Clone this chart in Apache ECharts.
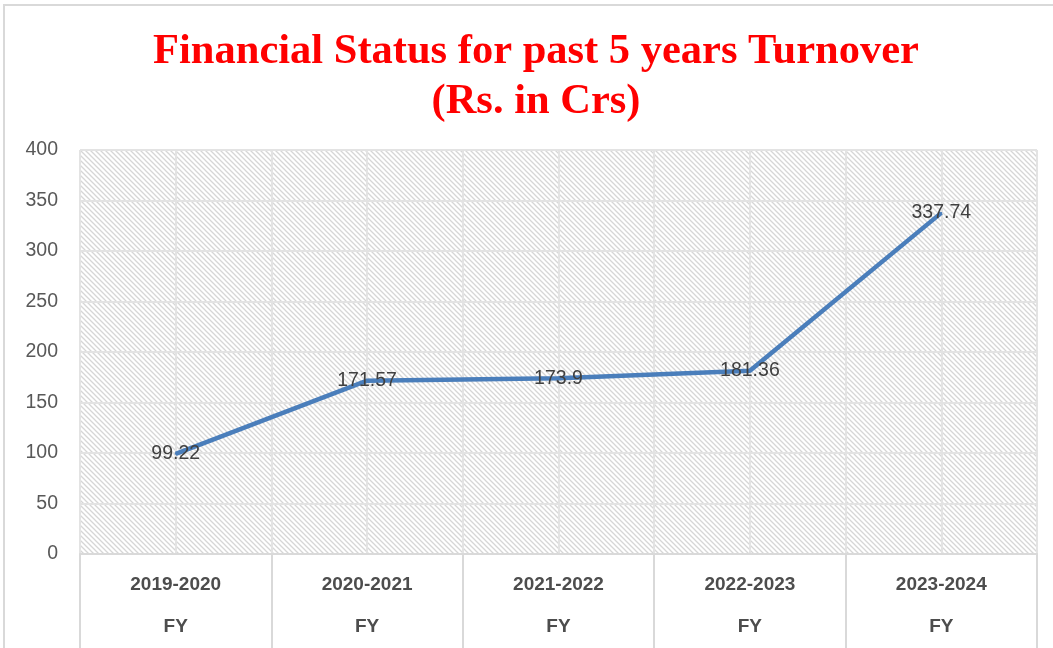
<!DOCTYPE html>
<html><head><meta charset="utf-8">
<script src="https://cdn.jsdelivr.net/npm/echarts@6/dist/echarts.min.js"></script>
<style>html,body{margin:0;padding:0;background:#fff}#c{width:1053px;height:648px}</style>
</head><body><div id="c"></div>
<script>
const categories = ['2019-2020','2020-2021','2021-2022','2022-2023','2023-2024'];
const groupLabel = 'FY';
const turnover = [99.22, 171.57, 173.9, 181.36, 337.74];
const yTicks = {min: 0, max: 400, interval: 50};
const titleText = 'Financial Status for past 5 years Turnover\n(Rs. in Crs)';

// hatch pattern
const P = 5;
const pc = document.createElement('canvas');
pc.width = P; pc.height = P;
const g = pc.getContext('2d');
g.fillStyle = '#ffffff'; g.fillRect(0,0,P,P);
g.strokeStyle = '#d6d6d6'; g.lineWidth = 1.3;
g.beginPath();
g.moveTo(-1,-1); g.lineTo(P+1,P+1);
g.moveTo(-1,P-1); g.lineTo(1,P+1);
g.moveTo(P-1,-1); g.lineTo(P+1,1);
g.stroke();

const halfCats = [];
categories.forEach(() => { halfCats.push(''); halfCats.push(''); });

const chart = echarts.init(document.getElementById('c'));
chart.setOption({
  animation: false,
  backgroundColor: '#ffffff',
  title: {
    text: titleText,
    left: 531, textAlign: 'center', top: 22,
    textStyle: {fontFamily: 'Liberation Serif', fontWeight: 'bold', fontSize: 42.5, color: '#ff0000', lineHeight: 50}
  },
  graphic: [{type: 'rect', shape: {x: 4, y: 5, width: 1100, height: 700}, style: {fill: 'none', stroke: '#d9d9d9', lineWidth: 2}, silent: true, z: -1}],
  grid: {left: 80, right: 16, top: 150, bottom: 94, show: true, backgroundColor: {image: pc, repeat: 'repeat'}, borderWidth: 0},
  xAxis: [{
    type: 'category', data: categories, boundaryGap: true,
    axisLine: {lineStyle: {color: '#d9d9d9', width: 2}},
    axisTick: {show: true, length: 94, lineStyle: {color: '#d9d9d9', width: 2}},
    splitLine: {show: false},
    axisLabel: {
      margin: 10, lineHeight: 42, fontFamily: 'Liberation Sans', fontWeight: 'bold', fontSize: 19, color: '#4d4d4d',
      formatter: v => v + '\n' + groupLabel
    }
  }, {
    type: 'category', data: halfCats, boundaryGap: true, position: 'bottom', show: true,
    axisLine: {show: false}, axisTick: {show: false}, axisLabel: {show: false},
    splitLine: {show: true, lineStyle: {color: '#e3e3e3', width: 2}}
  }],
  yAxis: {
    type: 'value', min: yTicks.min, max: yTicks.max, interval: yTicks.interval,
    axisLine: {show: false}, axisTick: {show: false},
    axisLabel: {fontFamily: 'Liberation Sans', fontSize: 19.5, color: '#595959', margin: 22},
    splitLine: {lineStyle: {color: '#e3e3e3', width: 2}}
  },
  series: [{
    type: 'line', data: turnover, xAxisIndex: 0,
    showSymbol: true, symbol: 'circle', symbolSize: 2,
    itemStyle: {color: '#4a7ebb'},
    lineStyle: {color: '#4a7ebb', width: 4.5},
    label: {show: true, position: 'inside', offset: [0, 2], fontFamily: 'Liberation Sans', fontSize: 19.5, color: '#404040'},
    labelLayout: {hideOverlap: false},
    z: 3
  }]
});
</script></body></html>
